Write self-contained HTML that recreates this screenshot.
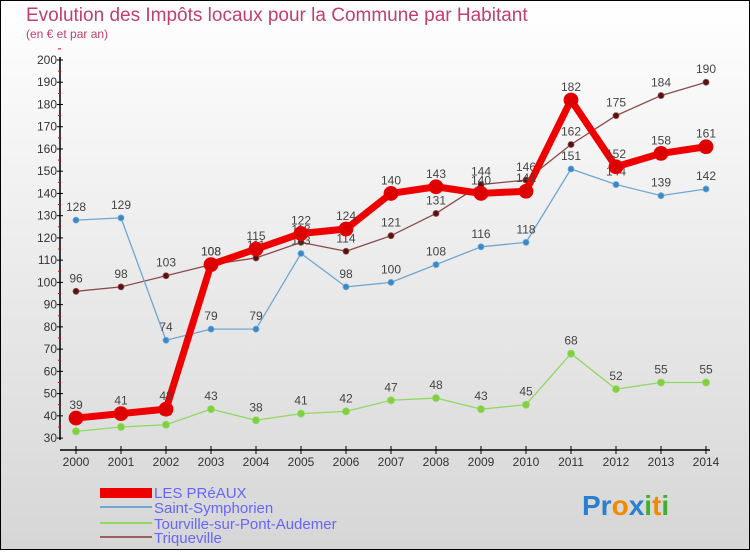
<!DOCTYPE html>
<html><head><meta charset="utf-8"><style>
body{margin:0;}
#wrap{width:750px;height:550px;position:relative;font-family:"Liberation Sans",sans-serif;}
svg text{font-family:"Liberation Sans",sans-serif;}
</style></head><body>
<div id="wrap">
<svg id="chart" width="750" height="550" xmlns="http://www.w3.org/2000/svg">
<defs><linearGradient id="bg" x1="0" y1="0" x2="0" y2="1"><stop offset="0" stop-color="#ffffff"/><stop offset="1" stop-color="#d6d6d6"/></linearGradient></defs>
<rect x="0.5" y="0.5" width="749" height="549" fill="url(#bg)" stroke="#000"/>
<text x="26" y="21" font-size="19" fill="#c0406a">Evolution des Impôts locaux pour la Commune par Habitant</text>
<text x="26" y="38" font-size="12" fill="#c0406a">(en € et par an)</text>
<g id="axes"></g>
<g id="series"></g>
<g>
<rect x="100" y="488" width="52" height="10" fill="#ee0000"/>
<text x="154" y="498" font-size="15" fill="#6666ff">LES PRéAUX</text>
<rect x="100" y="506" width="52" height="2" fill="#6fa7d0"/>
<text x="154" y="513" font-size="15" fill="#6666ff">Saint-Symphorien</text>
<rect x="100" y="522" width="52" height="2" fill="#90d860"/>
<text x="154" y="529" font-size="15" fill="#6666ff">Tourville-sur-Pont-Audemer</text>
<rect x="100" y="536" width="52" height="2" fill="#9a6060"/>
<text x="154" y="543" font-size="15" fill="#6666ff">Triqueville</text>
</g>
<text x="582" y="515" font-size="28" font-weight="bold"><tspan fill="#2a7fd0">Pr</tspan><tspan fill="#f08a00">o</tspan><tspan fill="#2a7fd0">x</tspan><tspan fill="#40b030">i</tspan><tspan fill="#f08a00">t</tspan><tspan fill="#40b030">i</tspan></text>
</svg>
</div>
<script>
const years = [2000,2001,2002,2003,2004,2005,2006,2007,2008,2009,2010,2011,2012,2013,2014];
const lesPreaux = [39,41,43,108,115,122,124,140,143,140,141,182,152,158,161];
const saintSymphorien = [128,129,74,79,79,113,98,100,108,116,118,151,144,139,142];
const tourville = [33,35,36,43,38,41,42,47,48,43,45,68,52,55,55];
const triqueville = [96,98,103,108,111,118,114,121,131,144,146,162,175,184,190];
const yTicks = [30,40,50,60,70,80,90,100,110,120,130,140,150,160,170,180,190,200];

const NS='http://www.w3.org/2000/svg';
const x = i => 76 + i*45;
const y = v => 60 + (200 - v) * 2.224;
function mk(tag, attrs, parent){const e=document.createElementNS(NS,tag);for(const k in attrs)e.setAttribute(k,attrs[k]);parent.appendChild(e);return e;}
const axes=document.getElementById('axes');
const ya=mk('line',{x1:60,y1:57,x2:60,y2:440,stroke:'#000','stroke-width':1.5},axes);


yTicks.forEach(t=>{
  const tk=mk('line',{x1:57,y1:y(t),x2:63,y2:y(t),stroke:'#000'},axes);
  
  
  const m=mk('line',{x1:58,y1:y(t+5),x2:61,y2:y(t+5),stroke:'#e00'},axes);
  
  
  const tl=mk('text',{x:57,y:y(t)+4,'font-size':12,fill:'#333','text-anchor':'end'},axes);
  tl.textContent=t;
  
  
});
const xa=mk('line',{x1:60,y1:450,x2:710,y2:450,stroke:'#000','stroke-width':1.5},axes);


years.forEach((yr,i)=>{
  const tk=mk('line',{x1:x(i),y1:446,x2:x(i),y2:454,stroke:'#000'},axes);
  
  
  const tl=mk('text',{x:x(i),y:466,'font-size':12,fill:'#333','text-anchor':'middle'},axes);
  tl.textContent=yr;
  
  
});
const ser=document.getElementById('series');
function draw(vals,name,color,w,r,dot){
  const g=mk('g',{},ser);
  
  
  const ln=mk('polyline',{points:vals.map((v,i)=>x(i)+','+y(v)).join(' '),fill:'none',stroke:color,'stroke-width':w,'stroke-linejoin':'round'},g);
  
  
  vals.forEach((v,i)=>{
    const c=mk('circle',{cx:x(i),cy:y(v),r:r,fill:dot,stroke:color,'stroke-width':0.8},g);
    
    
    const t=mk('text',{x:x(i),y:y(v)-9,'font-size':12,fill:'#444','text-anchor':'middle'},g);
    t.textContent=v;
    
    
  });
}
draw(triqueville,'triqueville','#8a4a4a',1.3,3,'#5a1010');
draw(saintSymphorien,'saint-symphorien','#6fa7d0',1.3,3,'#3a88c8');
draw(tourville,'tourville','#90d860',1.3,3.5,'#80d040');
draw(lesPreaux,'les-preaux','#ee0000',7,7,'#dd0000');
</script>
</body></html>
